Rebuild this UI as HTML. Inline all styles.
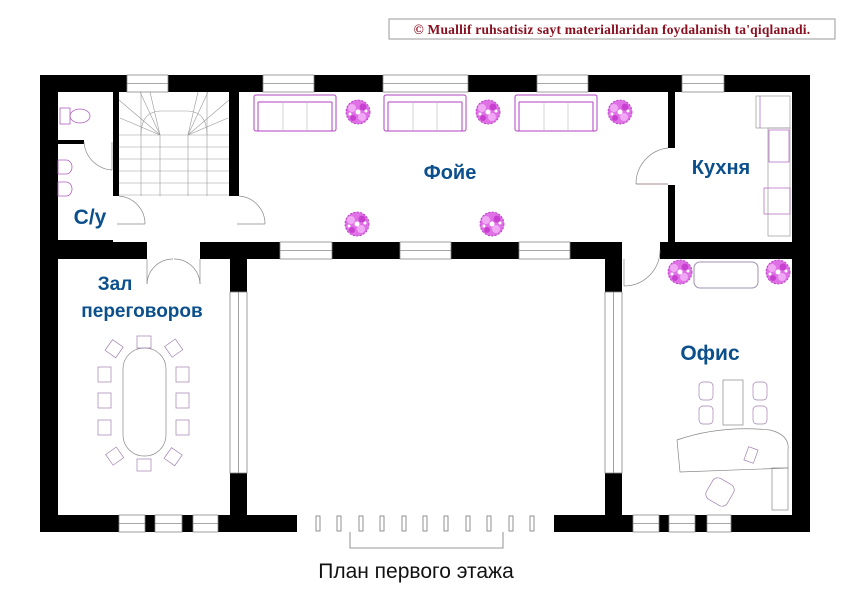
<!DOCTYPE html>
<html><head><meta charset="utf-8"><style>
html,body{margin:0;padding:0;background:#fff;width:849px;height:600px;overflow:hidden}
svg{display:block}
.lbl{font-family:"Liberation Sans",sans-serif;fill:#0b4f8c;font-weight:bold}
</style></head><body>
<svg width="849" height="600" viewBox="0 0 849 600" xmlns="http://www.w3.org/2000/svg">
<rect x="389" y="19" width="446" height="20" fill="#fff" stroke="#999" stroke-width="1"/>
<text x="612" y="34" text-anchor="middle" font-family="Liberation Serif,serif" font-size="13.5" font-weight="bold" fill="#8a1020" letter-spacing="0.2">© Muallif ruhsatisiz sayt materiallaridan foydalanish ta'qiqlanadi.</text>

<g fill="#000">
<rect x="40" y="75" width="770" height="17"/>
<rect x="40" y="75" width="18" height="457"/>
<rect x="792" y="75" width="18" height="457"/>
<rect x="40" y="515" width="770" height="17"/>
<rect x="113" y="92" width="6" height="104"/>
<rect x="229" y="92" width="10" height="104"/>
<rect x="58" y="140" width="26" height="4"/>
<rect x="40" y="242" width="107" height="17"/>
<rect x="200" y="242" width="422" height="17"/>
<rect x="660" y="242" width="150" height="17"/>
<rect x="40" y="240" width="73" height="4"/>
<rect x="668" y="92" width="7" height="56"/>
<rect x="668" y="185" width="7" height="57"/>
<rect x="230" y="242" width="17" height="290"/>
<rect x="605" y="242" width="17" height="290"/>
</g>
<g fill="#fff" stroke="#888" stroke-width="0.8">
<rect x="127" y="75" width="41" height="17"/><line x1="127" y1="83.5" x2="168" y2="83.5"/>
<rect x="263" y="75" width="51" height="17"/><line x1="263" y1="83.5" x2="314" y2="83.5"/>
<rect x="383" y="75" width="85" height="17"/><line x1="383" y1="83.5" x2="468" y2="83.5"/>
<rect x="537" y="75" width="51" height="17"/><line x1="537" y1="83.5" x2="588" y2="83.5"/>
<rect x="682" y="75" width="42" height="17"/><line x1="682" y1="83.5" x2="724" y2="83.5"/>
<rect x="280" y="242" width="52" height="17"/><line x1="280" y1="250.5" x2="332" y2="250.5"/>
<rect x="400" y="242" width="51" height="17"/><line x1="400" y1="250.5" x2="451" y2="250.5"/>
<rect x="519" y="242" width="51" height="17"/><line x1="519" y1="250.5" x2="570" y2="250.5"/>
<rect x="230" y="292" width="17" height="181"/><line x1="238.5" y1="292" x2="238.5" y2="473"/>
<rect x="605" y="292" width="17" height="181"/><line x1="613.5" y1="292" x2="613.5" y2="473"/>
<rect x="119" y="515" width="26" height="17"/><line x1="119" y1="523.5" x2="145" y2="523.5"/>
<rect x="155" y="515" width="27" height="17"/><line x1="155" y1="523.5" x2="182" y2="523.5"/>
<rect x="193" y="515" width="25" height="17"/><line x1="193" y1="523.5" x2="218" y2="523.5"/>
<rect x="633" y="515" width="26" height="17"/><line x1="633" y1="523.5" x2="659" y2="523.5"/>
<rect x="669" y="515" width="26" height="17"/><line x1="669" y1="523.5" x2="695" y2="523.5"/>
<rect x="707" y="515" width="24" height="17"/><line x1="707" y1="523.5" x2="731" y2="523.5"/>
<rect x="297" y="515" width="257" height="17" stroke="none"/>
</g>
<g fill="#fff" stroke="#777" stroke-width="0.8">
<rect x="316" y="516" width="4" height="15"/><rect x="337" y="516" width="4" height="15"/><rect x="359" y="516" width="4" height="15"/><rect x="380" y="516" width="4" height="15"/><rect x="402" y="516" width="4" height="15"/><rect x="423" y="516" width="4" height="15"/><rect x="444" y="516" width="4" height="15"/><rect x="466" y="516" width="4" height="15"/><rect x="487" y="516" width="4" height="15"/><rect x="509" y="516" width="4" height="15"/><rect x="530" y="516" width="4" height="15"/>
<polyline fill="none" points="350,532 350,548 503,548 503,532"/>
</g>
<g stroke="#999" stroke-width="0.6" fill="none">
<line x1="119" y1="135" x2="229" y2="135"/>
<line x1="119" y1="147" x2="229" y2="147"/><line x1="119" y1="159" x2="229" y2="159"/>
<line x1="119" y1="171" x2="229" y2="171"/><line x1="119" y1="183" x2="229" y2="183"/>
<line x1="119" y1="195" x2="229" y2="195"/>
<line x1="160" y1="135" x2="160" y2="196"/><line x1="188" y1="135" x2="188" y2="196"/>
<line x1="160" y1="135" x2="119" y2="100"/><line x1="160" y1="135" x2="140" y2="92"/><line x1="160" y1="135" x2="120" y2="118"/><line x1="160" y1="135" x2="150" y2="92"/>
<line x1="188" y1="135" x2="229" y2="100"/><line x1="188" y1="135" x2="208" y2="92"/><line x1="188" y1="135" x2="228" y2="118"/><line x1="188" y1="135" x2="198" y2="92"/>
<path d="M141 135 Q141 112 160 111 L188 111 Q207 112 207 135"/>
<line x1="141" y1="92" x2="141" y2="196"/><line x1="207" y1="92" x2="207" y2="196"/>
</g>
<g stroke="#888" stroke-width="0.7" fill="none">
<path d="M84 142 A30 30 0 0 0 112 170"/><line x1="112" y1="142" x2="112" y2="170"/>
<path d="M119 196 A28 28 0 0 1 145 224"/><line x1="117" y1="224" x2="145" y2="224"/>
<path d="M265 224 A28 28 0 0 0 239 196"/><line x1="237" y1="224" x2="265" y2="224"/>
<path d="M147 284 A26 26 0 0 1 173 259"/><line x1="147" y1="259" x2="147" y2="284"/>
<path d="M200 284 A26 26 0 0 0 174 259"/><line x1="200" y1="259" x2="200" y2="284"/>
<path d="M668 148 A36 36 0 0 0 636 184"/><line x1="636" y1="184" x2="668" y2="184" stroke="#866"/>
<path d="M624 286 A36 36 0 0 0 660 250"/><line x1="624" y1="259" x2="624" y2="286"/>
</g>
<g fill="none" stroke="#b060c0" stroke-width="0.8">
<rect x="60" y="108" width="10" height="16"/><ellipse cx="80" cy="116" rx="10" ry="7"/>
<path d="M58 160 h8 a6 7 0 0 1 0 14 h-8z"/><path d="M58 182 h8 a6 7 0 0 1 0 14 h-8z"/>
</g>
<g fill="none" stroke="#b040c0" stroke-width="1">
<rect x="254" y="95" width="82" height="36" rx="2"/><line x1="258" y1="102" x2="332" y2="102"/><line x1="258" y1="102" x2="258" y2="131"/><line x1="332" y1="102" x2="332" y2="131"/>
<rect x="384" y="95" width="82" height="36" rx="2"/><line x1="388" y1="102" x2="462" y2="102"/><line x1="388" y1="102" x2="388" y2="131"/><line x1="462" y1="102" x2="462" y2="131"/>
<rect x="515" y="95" width="82" height="36" rx="2"/><line x1="519" y1="102" x2="593" y2="102"/><line x1="519" y1="102" x2="519" y2="131"/><line x1="593" y1="102" x2="593" y2="131"/>
<rect x="694" y="262" width="64" height="26" rx="6" stroke="#a090b0"/>
</g>
<g stroke="#bbb" stroke-width="0.6">
<line x1="283" y1="102" x2="283" y2="131"/><line x1="307" y1="102" x2="307" y2="131"/>
<line x1="413" y1="102" x2="413" y2="131"/><line x1="437" y1="102" x2="437" y2="131"/>
<line x1="544" y1="102" x2="544" y2="131"/><line x1="568" y1="102" x2="568" y2="131"/>
</g>
<defs>
<g id="pl">
<circle r="12" fill="#e070e6" stroke="#b030c0" stroke-width="0.8" stroke-dasharray="2 1.5"/>
<circle cx="-6" cy="-4" r="4" fill="#f0a8f4"/><circle cx="5" cy="-5" r="3.5" fill="#c840d0"/>
<circle cx="4" cy="5" r="4" fill="#f0a8f4"/><circle cx="-5" cy="6" r="3" fill="#c840d0"/>
<circle cx="0" cy="0" r="2.5" fill="#fff"/><circle cx="-8" cy="2" r="1.5" fill="#fff"/><circle cx="8" cy="-1" r="1.5" fill="#fff"/>
</g>
</defs>
<use href="#pl" x="358" y="112"/><use href="#pl" x="488" y="112"/><use href="#pl" x="620" y="112"/>
<use href="#pl" x="357" y="224"/><use href="#pl" x="492" y="224"/>
<use href="#pl" x="680" y="272"/><use href="#pl" x="778" y="272"/>
<g fill="none" stroke="#999" stroke-width="0.7">
<rect x="756" y="96" width="34" height="32" /><line x1="760" y1="96" x2="760" y2="128" stroke="#b060c0"/>
<rect x="768" y="128" width="22" height="108"/>
<rect x="769" y="130" width="20" height="32" stroke="#b060c0"/>
<rect x="764" y="188" width="26" height="26" stroke="#b060c0"/>
</g>
<g fill="none" stroke="#888" stroke-width="0.7">
<rect x="123" y="348" width="43" height="108" rx="21"/>
</g>
<g fill="none" stroke="#a080b0" stroke-width="0.7">
<rect x="137" y="336" width="14" height="12"/><rect x="137" y="459" width="14" height="12"/>
<rect x="98" y="367" width="13" height="15"/><rect x="98" y="393" width="13" height="15"/><rect x="98" y="420" width="13" height="15"/>
<rect x="176" y="367" width="13" height="15"/><rect x="176" y="393" width="13" height="15"/><rect x="176" y="420" width="13" height="15"/>
<rect x="108" y="342" width="13" height="13" transform="rotate(35 114 348)"/><rect x="167" y="342" width="13" height="13" transform="rotate(-35 173 348)"/>
<rect x="108" y="450" width="13" height="13" transform="rotate(-35 114 456)"/><rect x="167" y="450" width="13" height="13" transform="rotate(35 173 456)"/>
</g>
<g fill="none" stroke="#888" stroke-width="0.7">
<rect x="723" y="380" width="20" height="45"/>
<path d="M677 440 Q720 425 770 430 Q790 435 788 450 L788 468 L680 472 Z"/>
<rect x="772" y="468" width="16" height="42"/>
</g>
<g fill="none" stroke="#a080b0" stroke-width="0.7">
<rect x="699" y="382" width="14" height="18" rx="4"/><rect x="699" y="406" width="14" height="18" rx="4"/>
<rect x="753" y="382" width="14" height="18" rx="4"/><rect x="753" y="406" width="14" height="18" rx="4"/>
<rect x="708" y="480" width="24" height="24" rx="6" transform="rotate(30 720 492)"/>
<rect x="746" y="448" width="10" height="14" transform="rotate(20 751 455)"/>
</g>
<text class="lbl" x="90" y="224" font-size="21" text-anchor="middle">С/у</text>
<text class="lbl" x="450" y="179" font-size="20" text-anchor="middle">Фойе</text>
<text class="lbl" x="721" y="174" font-size="20" text-anchor="middle">Кухня</text>
<text class="lbl" x="115" y="290" font-size="19" text-anchor="middle">Зал</text>
<text class="lbl" x="142" y="317" font-size="19" text-anchor="middle">переговоров</text>
<text class="lbl" x="710" y="360" font-size="21" text-anchor="middle">Офис</text>
<text x="416" y="578" font-family="Liberation Sans,sans-serif" font-size="21" text-anchor="middle" fill="#111">План первого этажа</text>
</svg>
</body></html>
